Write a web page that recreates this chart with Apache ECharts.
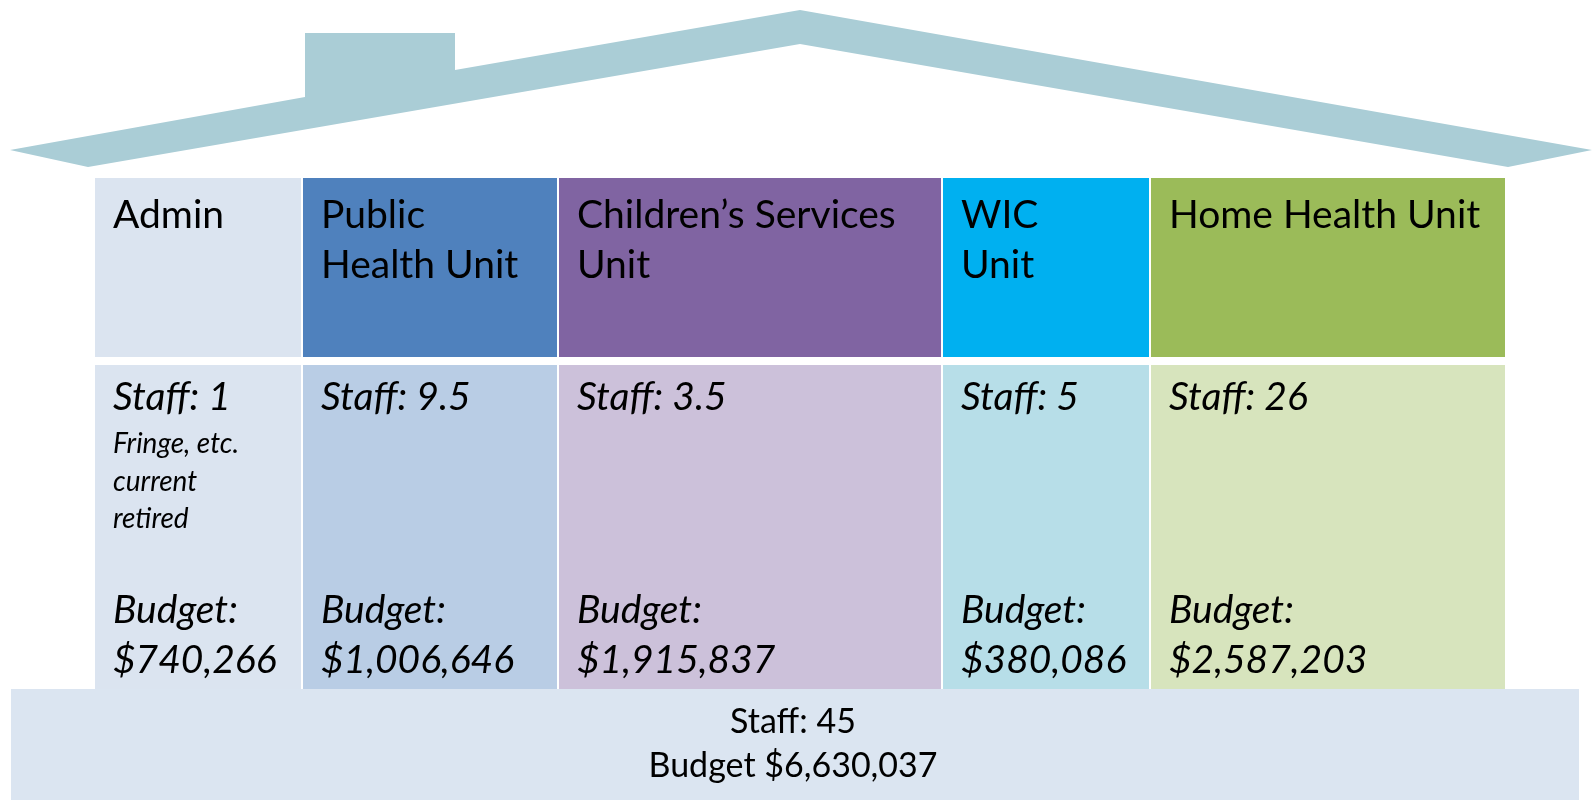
<!DOCTYPE html>
<html>
<head>
<meta charset="utf-8">
<script src="https://cdn.jsdelivr.net/npm/echarts@6/dist/echarts.min.js"></script>
<style>
  html, body { margin: 0; padding: 0; background: #ffffff; }
  #chart { width: 1595px; height: 800px; }
</style>
</head>
<body>
<div id="chart"></div>
<script>
// ---- data ----
const unitNames = ['Admin', 'Public\nHealth Unit', 'Children\u2019s Services\nUnit', 'WIC\nUnit', 'Home Health Unit'];
const unitStaff = [1, 9.5, 3.5, 5, 26];
const unitBudget = [740266, 1006646, 1915837, 380086, 2587203];
const adminNote = ['Fringe, etc.', 'current', 'retired'];
const totalStaff = 45;
const totalBudget = 6630037;

// ---- layout (pixel space of the hidden axes) ----
const W = 1595, H = 800;
const colEdges = [[95, 301], [303, 557], [559, 941], [943, 1149], [1151, 1505]];
const headerBand = [178, 357];
const bodyBand = [365, 689];
const baseBox = [11, 689, 1579, 800];
const roofPts = [[10, 150], [305, 97], [305, 33], [455, 33], [455, 70], [800, 10], [1592, 150], [1508, 167], [800, 44], [88, 167]];
const headerColors = ['#dbe4f0', '#4f81bd', '#8064a2', '#00b0f0', '#9bbb59'];
const bodyColors = ['#dbe4f0', '#b9cde5', '#ccc1da', '#b7dee8', '#d7e4bd'];
const roofColor = '#aacdd6';
const baseColor = '#dbe5f1';
const FONT = 'Lato, "Open Sans", sans-serif';

function fmtMoney(v) { return '$' + v.toLocaleString('en-US'); }

function textEl(x, y, text, size, italic, align) {
  return {
    type: 'text',
    style: {
      x: x, y: y, text: text,
      fill: '#000000',
      fontFamily: FONT,
      fontSize: size,
      fontStyle: italic ? 'italic' : 'normal',
      align: align || 'left',
      verticalAlign: 'middle'
    }
  };
}

const chart = echarts.init(document.getElementById('chart'), null, { renderer: 'canvas' });

const option = {
  animation: false,
  backgroundColor: '#ffffff',
  grid: { left: 0, right: 0, top: 0, bottom: 0 },
  xAxis: { type: 'value', min: 0, max: W, show: false },
  yAxis: { type: 'value', min: 0, max: H, inverse: true, show: false },
  series: [
    {
      type: 'custom',
      coordinateSystem: 'cartesian2d',
      data: [[0, 0]],
      renderItem: function (params, api) {
        const pts = roofPts.map(p => api.coord(p));
        return { type: 'polygon', shape: { points: pts }, style: { fill: roofColor } };
      }
    },
    {
      type: 'custom',
      coordinateSystem: 'cartesian2d',
      data: unitNames.map((n, i) => [i, unitStaff[i], unitBudget[i]]),
      renderItem: function (params, api) {
        const i = api.value(0);
        const staff = api.value(1);
        const budget = api.value(2);
        const e = colEdges[i];
        const tl = api.coord([e[0], headerBand[0]]);
        const br = api.coord([e[1], headerBand[1]]);
        const btl = api.coord([e[0], bodyBand[0]]);
        const bbr = api.coord([e[1], bodyBand[1]]);
        const tx = tl[0] + 18;
        const children = [
          { type: 'rect', shape: { x: tl[0], y: tl[1], width: br[0] - tl[0], height: br[1] - tl[1] }, style: { fill: headerColors[i] } },
          { type: 'rect', shape: { x: btl[0], y: btl[1], width: bbr[0] - btl[0], height: bbr[1] - btl[1] }, style: { fill: bodyColors[i] } }
        ];
        const lines = unitNames[i].split('\n');
        lines.forEach((ln, k) => {
          children.push(textEl(tx, api.coord([0, 227 - 12 + k * 50])[1], ln, 39, false));
        });
        children.push(textEl(tx, api.coord([0, 409 - 12])[1], 'Staff: ' + staff, 39, true));
        if (i === 0) {
          adminNote.forEach((ln, k) => {
            children.push(textEl(tx, api.coord([0, 452 - 8 + k * 37.5])[1], ln, 28, true));
          });
        }
        children.push(textEl(tx, api.coord([0, 622 - 12])[1], 'Budget:', 39, true));
        children.push(textEl(tx, api.coord([0, 672 - 12])[1], fmtMoney(budget), 39, true));
        return { type: 'group', children: children };
      }
    },
    {
      type: 'custom',
      coordinateSystem: 'cartesian2d',
      data: [[totalStaff, totalBudget]],
      renderItem: function (params, api) {
        const tl = api.coord([baseBox[0], baseBox[1]]);
        const br = api.coord([baseBox[2], baseBox[3]]);
        const cx = (tl[0] + br[0]) / 2 - 2;
        return {
          type: 'group',
          children: [
            { type: 'rect', shape: { x: tl[0], y: tl[1], width: br[0] - tl[0], height: br[1] - tl[1] }, style: { fill: baseColor } },
            textEl(cx, api.coord([0, 733 - 11])[1], 'Staff: ' + api.value(0), 34, false, 'center'),
            textEl(cx, api.coord([0, 777 - 11])[1], 'Budget ' + fmtMoney(api.value(1)), 34, false, 'center')
          ]
        };
      }
    }
  ]
};
chart.setOption(option);
</script>
</body>
</html>
